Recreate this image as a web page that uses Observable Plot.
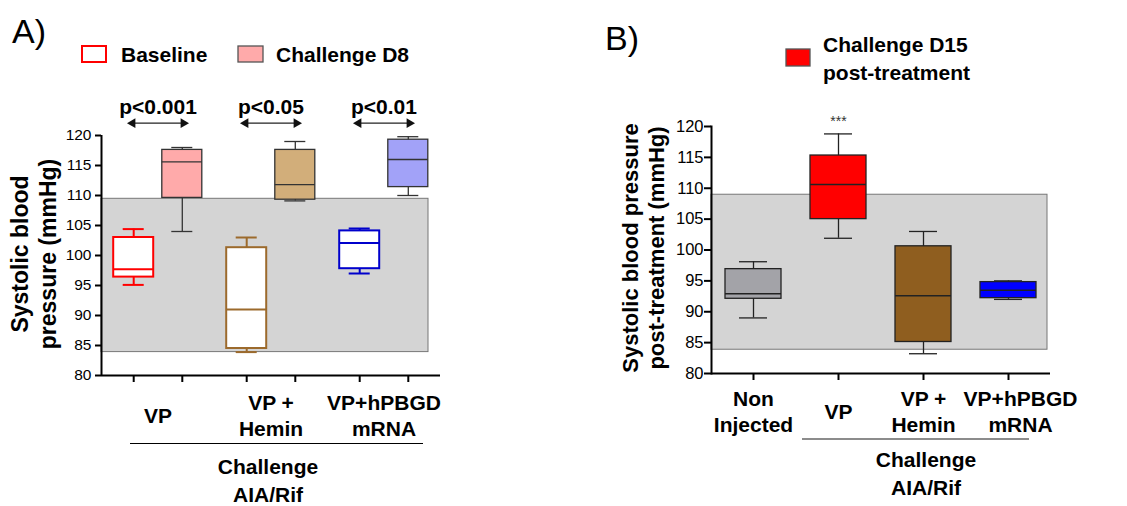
<!DOCTYPE html>
<html><head><meta charset="utf-8">
<script src="https://cdn.jsdelivr.net/npm/d3@7"></script>
<script src="https://cdn.jsdelivr.net/npm/@observablehq/plot@0.6"></script>
<style>
html,body{margin:0;padding:0;background:#fff;}
#wrap{position:relative;width:1127px;height:506px;overflow:hidden;}
#wrap svg{position:absolute;top:0;}
</style></head><body><div id="wrap"></div>
<script>
// ---------- DATA ----------
const yTicks = [80, 85, 90, 95, 100, 105, 110, 115, 120];

// Panel A
const groupsA = ["VP", "VP +\nHemin", "VP+hPBGD\nmRNA"];
const conditionsA = ["Baseline", "Challenge D8"];
const baselineMin = [95.1, 83.9, 97.0];
const baselineQ1 = [96.4, 84.5, 97.8];
const baselineMedian = [97.7, 91.0, 102.1];
const baselineQ3 = [103.0, 101.3, 104.1];
const baselineMax = [104.4, 103.0, 104.5];
const d8Min = [104.0, 109.1, 110.0];
const d8Q1 = [109.6, 109.3, 111.4];
const d8Median = [115.6, 111.8, 116.0];
const d8Q3 = [117.6, 117.6, 119.3];
const d8Max = [118.0, 119.0, 119.8];
const pLabelsA = ["p<0.001", "p<0.05", "p<0.01"];
const normalRangeA = [83.9, 109.45];

// Panel B
const categoriesB = ["Non\nInjected", "VP", "VP +\nHemin", "VP+hPBGD\nmRNA"];
const minB = [89.0, 101.9, 83.2, 92.0];
const q1B = [92.1, 105.0, 85.1, 92.2];
const medianB = [92.9, 110.6, 92.6, 93.5];
const q3B = [96.9, 115.3, 100.6, 94.8];
const maxB = [98.1, 118.8, 103.0, 95.0];
const sigB = ["", "***", "", ""];
const normalRangeB = [83.85, 108.95];

// ---------- STYLES ----------
const FONT = "'Liberation Sans', Arial, Helvetica, sans-serif";
const baselineColors = ["#ff0000", "#9c6a2c", "#0000cc"];
const d8Colors = ["#ffaaaa", "#d2ae7a", "#a2a2f8"];
const colorsB = ["#a3a3a8", "#ff0000", "#8f5e1f", "#0000ff"];
const boxHalf = 0.177, capHalf = 0.093, pairOffset = 0.215;
const pValueY = 124.7, arrowY = 122.05;

// ---------- PANEL A ----------
const baseRows = groupsA.map((g, i) => ({g, i, x: i + 0.5 - pairOffset,
  min: baselineMin[i], q1: baselineQ1[i], med: baselineMedian[i], q3: baselineQ3[i], max: baselineMax[i], color: baselineColors[i]}));
const d8Rows = groupsA.map((g, i) => ({g, i, x: i + 0.5 + pairOffset,
  min: d8Min[i], q1: d8Q1[i], med: d8Median[i], q3: d8Q3[i], max: d8Max[i], color: d8Colors[i]}));
const allRowsA = baseRows.concat(d8Rows);

function boxMarks(rows, {filled, strokeW}) {
  const x1 = d => d.x - boxHalf, x2 = d => d.x + boxHalf;
  const c1 = d => d.x - capHalf, c2 = d => d.x + capHalf;
  const lineColor = filled ? "#333" : d => d.color;
  return [
    Plot.ruleX(rows, {x: "x", y1: "min", y2: "max", stroke: lineColor, strokeWidth: strokeW}),
    Plot.ruleY(rows, {y: "max", x1: c1, x2: c2, stroke: lineColor, strokeWidth: strokeW}),
    Plot.ruleY(rows, {y: "min", x1: c1, x2: c2, stroke: lineColor, strokeWidth: strokeW}),
    Plot.rect(rows, {x1, x2, y1: "q1", y2: "q3", fill: filled ? d => d.color : "white", stroke: lineColor, strokeWidth: strokeW}),
    Plot.ruleY(rows, {y: "med", x1, x2, stroke: lineColor, strokeWidth: strokeW})
  ];
}

const plotA = Plot.plot({
  width: 560, height: 506,
  marginLeft: 101, marginRight: 120, marginTop: 135, marginBottom: 131,
  x: {type: "linear", domain: [0, 3]},
  y: {domain: [80, 120]},
  color: {type: "identity"},
  style: {fontFamily: FONT, fontSize: "15.5px", color: "black", background: "transparent", overflow: "visible"},
  marks: [
    Plot.rect([normalRangeA], {y1: d => d[0], y2: d => d[1], fill: "#d4d4d4", stroke: "#777", strokeWidth: 1, insetRight: 12}),
    ...boxMarks(baseRows, {filled: false, strokeW: 2}),
    ...boxMarks(d8Rows, {filled: true, strokeW: 1.3}),
    Plot.ruleX([0], {stroke: "black", strokeWidth: 2}),
    Plot.ruleY([80], {stroke: "black", strokeWidth: 2}),
    Plot.axisY({ticks: yTicks, tickSize: 6, tickPadding: 4, strokeWidth: 2, label: null}),
    Plot.axisX({ticks: allRowsA.map(d => d.x), tickSize: 7, strokeWidth: 2, tickFormat: () => "", label: null}),
    Plot.text(groupsA, {x: (d, i) => i + 0.5, frameAnchor: "bottom", lineAnchor: "middle", dy: 39, fontSize: 21, fontWeight: "bold", lineHeight: 1.24}),
    Plot.text(pLabelsA, {x: (d, i) => i + 0.5, y: () => pValueY, fontSize: 21, fontWeight: "bold"}),
    Plot.link(pLabelsA, {x1: (d, i) => i + 0.5 - 0.225, x2: (d, i) => i + 0.5 + 0.225, y1: () => arrowY, y2: () => arrowY, stroke: "#222", strokeWidth: 1.2}),
    Plot.dot(pLabelsA, {x: (d, i) => i + 0.5 - 0.225, y: () => arrowY, symbol: "triangle", r: 3.6, fill: "#111", stroke: "none", rotate: -90}),
    Plot.dot(pLabelsA, {x: (d, i) => i + 0.5 + 0.225, y: () => arrowY, symbol: "triangle", r: 3.6, fill: "#111", stroke: "none", rotate: 90})
  ]
});
plotA.style.left = "0px";

// ---------- PANEL B ----------
const rowsB = categoriesB.map((c, i) => ({c, min: minB[i], q1: q1B[i], med: medianB[i], q3: q3B[i], max: maxB[i], sig: sigB[i], color: colorsB[i]}));

const plotB = Plot.plot({
  width: 567, height: 506,
  marginLeft: 151, marginRight: 77, marginTop: 126, marginBottom: 133,
  x: {type: "band", domain: categoriesB, paddingInner: 0.34, paddingOuter: 0.164},
  y: {domain: [80, 120]},
  color: {type: "identity"},
  style: {fontFamily: FONT, fontSize: "16.5px", color: "black", background: "transparent", overflow: "visible"},
  marks: [
    Plot.rect([normalRangeB], {y1: d => d[0], y2: d => d[1], fill: "#d4d4d4", stroke: "#777", strokeWidth: 1, insetRight: 3}),
    Plot.ruleX(rowsB, {x: "c", y1: "min", y2: "max", stroke: "#222", strokeWidth: 1.3}),
    Plot.tickY(rowsB, {x: "c", y: "max", stroke: "#222", strokeWidth: 1.3, insetLeft: 14, insetRight: 14}),
    Plot.tickY(rowsB, {x: "c", y: "min", stroke: "#222", strokeWidth: 1.3, insetLeft: 14, insetRight: 14}),
    Plot.barY(rowsB, {x: "c", y1: "q1", y2: "q3", fill: "color", stroke: "#222", strokeWidth: 1.3}),
    Plot.tickY(rowsB, {x: "c", y: "med", stroke: "#222", strokeWidth: 1.5}),
    Plot.text(rowsB.filter(d => d.sig), {x: "c", y: "max", text: "sig", dy: -12, fontSize: 14, fill: "#333"}),
    Plot.frame({anchor: "left", stroke: "black", strokeWidth: 2}),
    Plot.ruleY([80], {stroke: "black", strokeWidth: 2}),
    Plot.axisY({ticks: yTicks, tickSize: 7, tickPadding: 1, strokeWidth: 2, label: null}),
    Plot.axisX({tickSize: 7, strokeWidth: 2, tickFormat: () => "", label: null}),
    Plot.text(categoriesB.slice(0, 3), {x: d => d, frameAnchor: "bottom", lineAnchor: "middle", dy: 37, fontSize: 21, fontWeight: "bold", lineHeight: 1.27}),
    Plot.text(categoriesB.slice(3), {x: d => d, frameAnchor: "bottom", lineAnchor: "middle", dy: 37, dx: 12, fontSize: 21, fontWeight: "bold", lineHeight: 1.27})
  ]
});
plotB.style.left = "560px";

const wrap = document.getElementById("wrap");
wrap.appendChild(plotA);
wrap.appendChild(plotB);

// ---------- ANNOTATIONS (titles, legends, axis titles, group labels) ----------
const svg = d3.select(wrap).append("svg")
  .attr("width", 1127).attr("height", 506)
  .style("left", "0px").style("pointer-events", "none")
  .attr("font-family", FONT);

svg.append("text").attr("x", 12).attr("y", 43).attr("font-size", 34).text("A)");
svg.append("text").attr("x", 605).attr("y", 50).attr("font-size", 34).text("B)");

// legend A
svg.append("rect").attr("x", 82).attr("y", 46).attr("width", 24).attr("height", 16)
  .attr("fill", "white").attr("stroke", baselineColors[0]).attr("stroke-width", 2);
svg.append("text").attr("x", 121).attr("y", 61.5).attr("font-size", 21).attr("font-weight", "bold").text(conditionsA[0]);
svg.append("rect").attr("x", 238).attr("y", 46).attr("width", 25).attr("height", 16)
  .attr("fill", d8Colors[0]).attr("stroke", "#555").attr("stroke-width", 1.3);
svg.append("text").attr("x", 276).attr("y", 61.5).attr("font-size", 21).attr("font-weight", "bold").text(conditionsA[1]);

// legend B
svg.append("rect").attr("x", 786).attr("y", 49).attr("width", 24).attr("height", 17)
  .attr("fill", colorsB[1]).attr("stroke", "#555").attr("stroke-width", 1.3);
const lgB = svg.append("text").attr("font-size", 21).attr("font-weight", "bold");
lgB.append("tspan").attr("x", 823).attr("y", 51.5).text("Challenge D15");
lgB.append("tspan").attr("x", 823).attr("y", 79.5).text("post-treatment");

// y-axis titles
const yA = svg.append("text").attr("transform", "translate(0,254) rotate(-90)")
  .attr("text-anchor", "middle").attr("font-size", 23).attr("font-weight", "bold");
yA.append("tspan").attr("x", 0).attr("y", 28).text("Systolic blood");
yA.append("tspan").attr("x", 0).attr("y", 56).text("pressure (mmHg)");
const yB = svg.append("text").attr("transform", "translate(0,248) rotate(-90)")
  .attr("text-anchor", "middle").attr("font-size", 22).attr("font-weight", "bold");
yB.append("tspan").attr("x", 0).attr("y", 638).text("Systolic blood pressure");
yB.append("tspan").attr("x", 0).attr("y", 664).text("post-treatment (mmHg)");

// group brackets
svg.append("line").attr("x1", 130).attr("x2", 423).attr("y1", 443.5).attr("y2", 443.5).attr("stroke", "black").attr("stroke-width", 1);
const gA = svg.append("text").attr("text-anchor", "middle").attr("font-size", 21).attr("font-weight", "bold");
gA.append("tspan").attr("x", 268).attr("y", 473.5).text("Challenge");
gA.append("tspan").attr("x", 268).attr("y", 501.5).text("AIA/Rif");
svg.append("line").attr("x1", 802).attr("x2", 1029).attr("y1", 439).attr("y2", 439).attr("stroke", "#666").attr("stroke-width", 1.5);
const gB = svg.append("text").attr("text-anchor", "middle").attr("font-size", 21).attr("font-weight", "bold");
gB.append("tspan").attr("x", 926).attr("y", 467).text("Challenge");
gB.append("tspan").attr("x", 926).attr("y", 495).text("AIA/Rif");
</script></body></html>
